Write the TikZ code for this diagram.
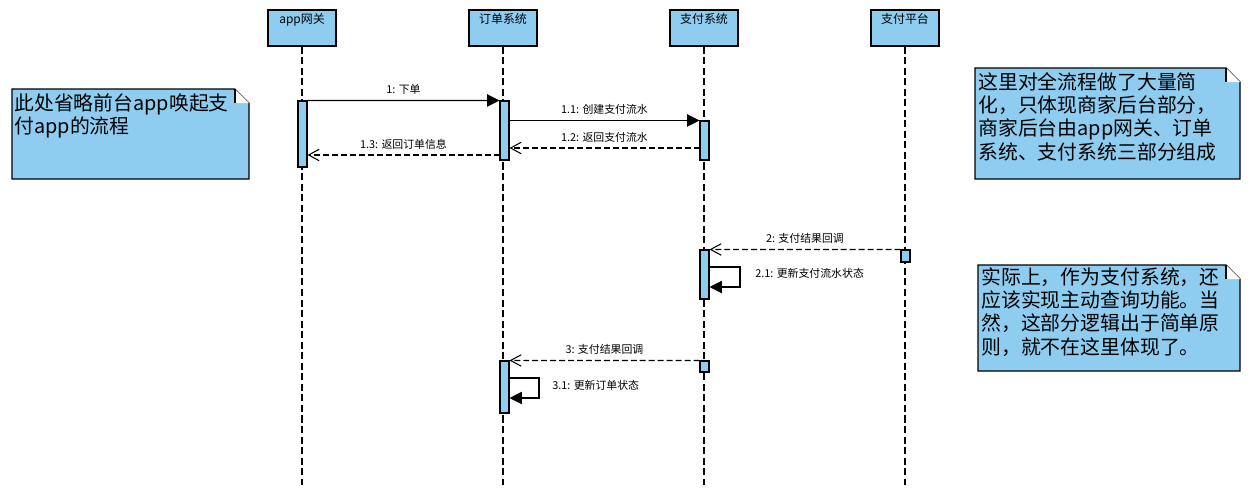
\documentclass[tikz,border=0pt]{standalone}
\usepackage{fontspec}
\setmainfont{Noto Sans CJK SC}
\usetikzlibrary{arrows.meta}
\definecolor{bleuvp}{RGB}{142,205,240}
\begin{document}
\begin{tikzpicture}[x=0.02cm,y=-0.02cm]
	% Styles
	\tikzstyle{tete}=[draw,fill=bleuvp,minimum width=1.36cm,minimum height=0.72cm,inner sep=0pt,line width=0.6pt]
	\tikzstyle{nom}=[anchor=north,inner sep=2pt,font=\fontsize{6.8}{8}\selectfont]
	\tikzstyle{vie}=[dash pattern=on 4pt off 2pt,line width=0.6pt]
	\tikzstyle{activ}=[draw,fill=bleuvp,minimum width=0.18cm,inner sep=0pt,line width=0.6pt]
	\tikzstyle{appel}=[-{Triangle[length=7pt,width=7pt]},line width=0.6pt]
	\tikzstyle{retour}=[-{Straight Barb[length=6pt,width=6.5pt]},dash pattern=on 3.4pt off 1.7pt,line width=0.6pt]
	\tikzstyle{boucle}=[-{Triangle[length=7pt,width=7pt]},line width=0.6pt]
	\tikzstyle{etiquette}=[midway,above,inner sep=3pt,font=\fontsize{6.2}{7}\selectfont]
	\tikzstyle{etiquette1}=[right,inner sep=0pt,font=\fontsize{6.2}{7}\selectfont]
	\tikzstyle{note}=[draw,fill=bleuvp,line width=0.6pt]
	\tikzstyle{texte}=[anchor=north west,align=left,inner sep=0pt,font=\fontsize{11.3}{13.3}\selectfont]
	\useasboundingbox (0,0) rectangle (1254,498);
	% Tetes des lignes de vie
	\node[tete,label={[nom]north:app网关}] (Gw) at (302,28) {};
	\node[tete,label={[nom]north:订单系统}] (Cm) at (503,28) {};
	\node[tete,label={[nom]north:支付系统}] (Py) at (704,28) {};
	\node[tete,label={[nom]north:支付平台}] (Pt) at (905,28) {};
	% Lignes de vie
	\foreach \L in {Gw,Cm,Py,Pt}
		\draw[vie] (\L.south) -- (\L.south |- 0,485);
	% Activations
	\node[activ,minimum height=1.32cm] (Gwa) at (302.5,134) {};
	\node[activ,minimum height=1.18cm] (Cma) at (504.5,130.5) {};
	\node[activ,minimum height=0.78cm] (Pya) at (704.5,140.5) {};
	\node[activ,minimum height=0.98cm] (Pyb) at (704.5,274.5) {};
	\node[activ,minimum height=0.24cm] (Pta) at (905.5,256) {};
	\node[activ,minimum height=1.04cm] (Cmb) at (504.5,387) {};
	\node[activ,minimum height=0.22cm] (Pyc) at (704.5,366.5) {};
	% Messages
	\draw[appel] (Gwa.north east) -- (Cma.north west) node[etiquette] {1: 下单};
	\draw[appel] (Cma.east |- Pya.north) -- (Pya.north west) node[etiquette] {1.1: 创建支付流水};
	\draw[retour] (Pya.west |- 0,148) -- (Cma.east |- 0,148) node[etiquette] {1.2: 返回支付流水};
	\draw[retour] (Cma.west |- 0,155) -- (Gwa.east |- 0,155) node[etiquette] {1.3: 返回订单信息};
	\draw[retour] (Pta.north west) -- (Pyb.north east) node[etiquette] {2: 支付结果回调};
	\draw[boucle] (Pyb.east |- 0,267) -| (740,287) -- (Pyb.east |- 0,287);
	\node[etiquette1] (Lb1) at (755,273) {2.1: 更新支付流水状态};
	\draw[retour] (Pyc.north west) -- (Cmb.north east) node[etiquette] {3: 支付结果回调};
	\draw[boucle] (Cmb.east |- 0,378) -| (539,398) -- (Cmb.east |- 0,398);
	\node[etiquette1] (Lb2) at (552,385) {3.1: 更新订单状态};
	% Notes
	\draw[note] (12,89) -- (235,89) -- (249,103) -- (249,179) -- (12,179) -- cycle;
	\fill[white] (235,89) -- (235,103) -- (249,103) -- cycle;
	\draw[line width=0.6pt] (235,89) -- (235,103);
	\node[texte] (N1) at (14,93) {此处省略前台app唤起支\\付app的流程};
	\draw[note] (975,68) -- (1226,68) -- (1240,82) -- (1240,179) -- (975,179) -- cycle;
	\fill[white] (1226,68) -- (1226,82) -- (1240,82) -- cycle;
	\draw[line width=0.6pt] (1226,68) -- (1226,82);
	\node[texte] (N2) at (978,72) {这里对全流程做了大量简\\化，只体现商家后台部分，\\商家后台由app网关、订单\\系统、支付系统三部分组成};
	\draw[note] (978,265) -- (1226,265) -- (1240,279) -- (1240,371) -- (978,371) -- cycle;
	\fill[white] (1226,265) -- (1226,279) -- (1240,279) -- cycle;
	\draw[line width=0.6pt] (1226,265) -- (1226,279);
	\node[texte] (N3) at (981,267) {实际上，作为支付系统，还\\应该实现主动查询功能。当\\然，这部分逻辑出于简单原\\则，就不在这里体现了。};
\end{tikzpicture}
\end{document}
